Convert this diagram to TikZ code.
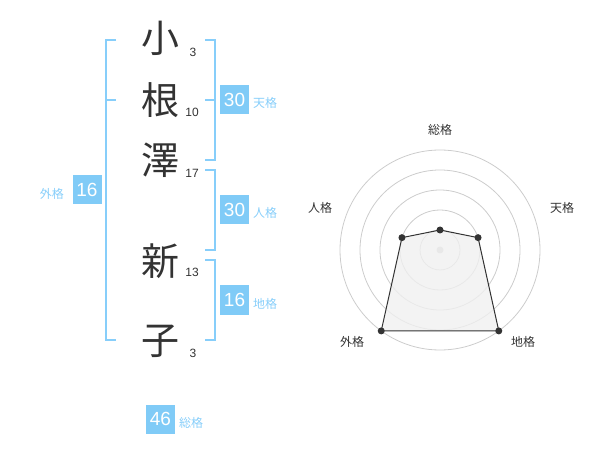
\documentclass[tikz,border=0pt]{standalone}
\usepackage{fontspec}
\setmainfont{Liberation Sans}
\newfontfamily\jpfont{Noto Sans CJK JP}
\usepackage{tikz}
\usetikzlibrary{calc}
\usepackage{xcolor}

\definecolor{skyline}{RGB}{135,206,250}
\definecolor{skybox}{RGB}{128,203,247}
\definecolor{inkgray}{RGB}{51,51,51}
\definecolor{ringgray}{RGB}{204,204,204}
\definecolor{areagray}{RGB}{240,240,240}

\tikzset{
  kanji/.style={text=inkgray, inner sep=0pt, font=\jpfont\fontsize{38bp}{38bp}\selectfont},
  strokes/.style={text=inkgray, inner sep=0pt, font=\fontsize{12bp}{12bp}\selectfont},
  kakubox/.style={fill=skybox, text=white, minimum size=29bp, inner sep=0pt, font=\fontsize{19bp}{19bp}\selectfont},
  kakulabel/.style={text=skyline, inner sep=0pt, font=\jpfont\fontsize{12bp}{12bp}\selectfont},
  bracket/.style={draw=skyline, line width=2bp},
  radarlabel/.style={text=inkgray, inner sep=0pt, font=\jpfont\fontsize{12bp}{12bp}\selectfont}
}

\begin{document}
\begin{tikzpicture}[x=1bp, y=-1bp] % 1 unit = 1 pixel, y downward
        \useasboundingbox (0,0) rectangle (600,470);

        % Name Characters and Stroke Counts
        \node[kanji] (Ko) at (160,38) {小};
        \node[kanji] (Ne) at (160,100) {根};
        \node[kanji] (Sawa) at (160,160) {澤};
        \node[kanji] (Shin) at (160,261) {新};
        \node[kanji] (Ko2) at (160,341) {子};
        \node[strokes] (KoN) at (193,52) {3};
        \node[strokes] (NeN) at (192,112) {10};
        \node[strokes] (SawaN) at (192,173) {17};
        \node[strokes] (ShinN) at (192,272) {13};
        \node[strokes] (Ko2N) at (193,353) {3};

        % Draw Brackets
        \draw[bracket] (116,40) -- (105.5,40) -- (105.5,339.5) -- (116,339.5);
        \draw[bracket] (105.5,100) -- (116,100);
        \draw[bracket] (205,40) -- (214.5,40) -- (214.5,160) -- (205,160);
        \draw[bracket] (205,100) -- (214.5,100);
        \draw[bracket] (205,170) -- (214.5,170) -- (214.5,250) -- (205,250);
        \draw[bracket] (205,260) -- (214.5,260) -- (214.5,339.5) -- (205,339.5);

        % Kaku Boxes
        \node[kakubox] (Ten) at (234.5,100) {30};
        \node[kakulabel, anchor=west] (TenL) at (253,103) {天格};
        \node[kakubox] (Jin) at (234.5,210) {30};
        \node[kakulabel, anchor=west] (JinL) at (253,213) {人格};
        \node[kakubox] (Chi) at (234.5,300) {16};
        \node[kakulabel, anchor=west] (ChiL) at (253,304) {地格};
        \node[kakubox] (Gai) at (87,190) {16};
        \node[kakulabel, anchor=east] (GaiL) at (64,194) {外格};
        \node[kakubox] (So) at (160.5,419) {46};
        \node[kakulabel, anchor=west] (SoL) at (179,423) {総格};

        % Radar Chart
        \coordinate (Center) at (440,250);
        \foreach \r in {20,40,60,80,100} {
            \draw[ringgray, line width=0.8bp] (Center) circle (\r);
        }
        \fill[ringgray] (Center) circle (3.5);

        \foreach \name/\ang/\r in {PSo/-90/20, PTen/-18/40, PChi/54/100, PGai/126/100, PJin/198/40} {
            \coordinate (\name) at ($(Center)+(\ang:\r)$);
        }
        \draw[inkgray, line width=1bp, fill=areagray, fill opacity=0.8] (PSo) -- (PTen) -- (PChi) -- (PGai) -- (PJin) -- cycle;
        \foreach \p in {PSo,PTen,PChi,PGai,PJin} {
            \fill[inkgray] (\p) circle (3.5);
        }

        \node[radarlabel] (RSo) at (440,130) {総格};
        \node[radarlabel] (RTen) at (562,208) {天格};
        \node[radarlabel] (RJin) at (320,208) {人格};
        \node[radarlabel] (RGai) at (352,342) {外格};
        \node[radarlabel] (RChi) at (523,342) {地格};

    \end{tikzpicture}
\end{document}
